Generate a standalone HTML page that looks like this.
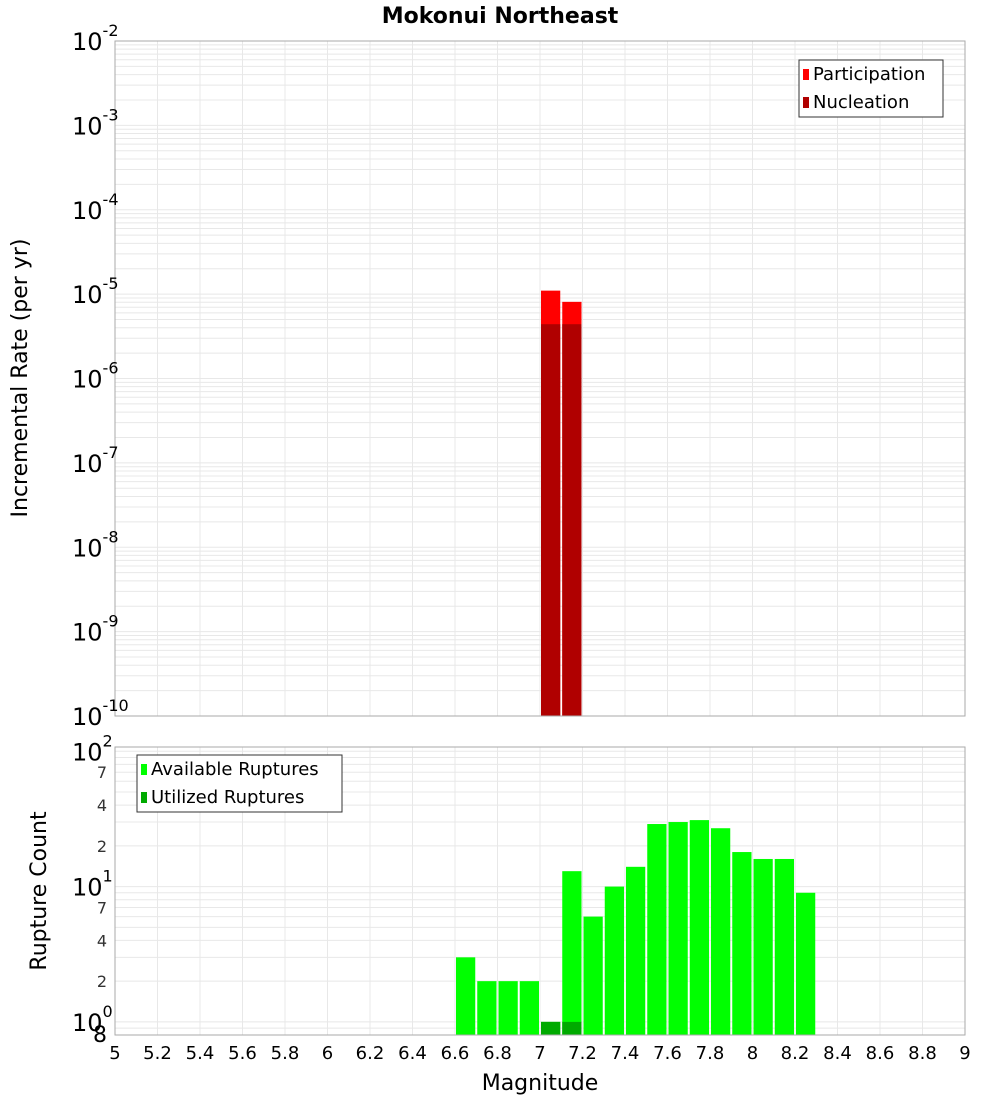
<!DOCTYPE html>
<html><head><meta charset="utf-8"><style>
body{margin:0;background:#fff;font-family:"DejaVu Sans","Liberation Sans",sans-serif}
svg text{font-family:"DejaVu Sans","Liberation Sans",sans-serif}
</style></head><body>
<svg id="chart" width="1000" height="1100" xmlns="http://www.w3.org/2000/svg">
<text x="500" y="23" text-anchor="middle" font-size="22" font-weight="bold">Mokonui Northeast</text>
<g id="gtop"></g><g id="gbot"></g>
<text transform="translate(27,378) rotate(-90)" text-anchor="middle" font-size="22">Incremental Rate (per yr)</text>
<text transform="translate(46,891) rotate(-90)" text-anchor="middle" font-size="22">Rupture Count</text>
<text x="540" y="1090" text-anchor="middle" font-size="22">Magnitude</text>
</svg>
<script>
const binStarts=[6.6,6.7,6.8,6.9,7.0,7.1,7.2,7.3,7.4,7.5,7.6,7.7,7.8,7.9,8.0,8.1,8.2];
const available=[3,2,2,2,1,13,6,10,14,29,30,31,27,18,16,16,9];
const utilized=[0,0,0,0,1,1,0,0,0,0,0,0,0,0,0,0,0];
const rateBins=[7.0,7.1];
const participation=[1.1e-5,8.1e-6];
const nucleation=[4.4e-6,4.4e-6];
const xTicks=[5,5.2,5.4,5.6,5.8,6,6.2,6.4,6.6,6.8,7,7.2,7.4,7.6,7.8,8,8.2,8.4,8.6,8.8,9];
const topDecades=[-10,-9,-8,-7,-6,-5,-4,-3,-2];
const botDecades=[0,1,2];
const botMinorLabels=[2,4,7];

const NS="http://www.w3.org/2000/svg";
function mk(p,t,a){const e=document.createElementNS(NS,t);for(const k in a)e.setAttribute(k,a[k]);p.appendChild(e);return e;}
const X0=115,X1=965;
const xs=m=>X0+(m-5)/4*(X1-X0);
const T0=41,T1=716;
const yt=v=>T1-(Math.log10(v)+10)/8*(T1-T0);
const B0=747,B1=1035,bmin=Math.log10(0.8),bdec=135.3;
const yb=v=>B1-(Math.log10(v)-bmin)*bdec;

const gTop=document.getElementById('gtop'),gBot=document.getElementById('gbot');
function grid(g,y0,y1,yf,lo,hi){
  for(const t of xTicks){const l=mk(g,'line',{x1:xs(t),x2:xs(t),y1:y0,y2:y1,stroke:'#e8e8e8'});
  }
  for(let d=lo;d<=hi;d++)for(let k=1;k<10;k++){const v=k*Math.pow(10,d);const y=yf(v);if(y<y0-0.5||y>y1+0.5)continue;
  const l=mk(g,'line',{x1:X0,x2:X1,y1:y,y2:y,stroke:'#e8e8e8'});
  }
}
grid(gTop,T0,T1,yt,-10,-3);
grid(gBot,B0,B1,yb,-1,2);
rateBins.forEach((m,i)=>{
  let r=mk(gTop,'rect',{x:xs(m)+1,width:xs(m+0.1)-xs(m)-2,y:yt(participation[i]),height:T1-yt(participation[i]),fill:'#ff0000'});
  
  r=mk(gTop,'rect',{x:xs(m)+1,width:xs(m+0.1)-xs(m)-2,y:yt(nucleation[i]),height:T1-yt(nucleation[i]),fill:'#b00000'});
  
});
binStarts.forEach((m,i)=>{
  let r=mk(gBot,'rect',{x:xs(m)+1,width:xs(m+0.1)-xs(m)-2,y:yb(available[i]),height:B1-yb(available[i]),fill:'#00ff00'});
  
  if(utilized[i]>0){r=mk(gBot,'rect',{x:xs(m)+1,width:xs(m+0.1)-xs(m)-2,y:yb(utilized[i]),height:B1-yb(utilized[i]),fill:'#00aa00'});
  }
});
let f=mk(gTop,'rect',{x:X0,y:T0,width:X1-X0,height:T1-T0,fill:'none',stroke:'#aaa'});

f=mk(gBot,'rect',{x:X0,y:B0,width:X1-X0,height:B1-B0,fill:'none',stroke:'#aaa'});

function dlabel(g,y,e){const t=mk(g,'text',{x:72,y:y+9,'font-size':24});
  
  t.appendChild(document.createTextNode('10'));
  const s=mk(t,'tspan',{dy:-14,'font-size':16});s.textContent=String(e);}
topDecades.forEach(d=>dlabel(gTop,yt(Math.pow(10,d)),d));
botDecades.forEach(d=>dlabel(gBot,yb(Math.pow(10,d)),d));
for(const d of [0,1])for(const k of botMinorLabels){const t=mk(gBot,'text',{x:107,y:yb(k*Math.pow(10,d))+6,'text-anchor':'end','font-size':16,fill:'#333'});
  t.textContent=k;}
let t8=mk(gBot,'text',{x:107,y:1042,'text-anchor':'end','font-size':22});t8.textContent='8';
xTicks.forEach(v=>{const t=mk(gBot,'text',{x:xs(v),y:1059,'text-anchor':'middle','font-size':18});
  t.textContent=String(v);});
function legend(g,x,y,w,items,nm){const r=mk(g,'rect',{x:x,y:y,width:w,height:57,fill:'#fff',stroke:'#333'});
  
  items.forEach((it,i)=>{const s=mk(g,'rect',{x:x+4,y:y+9+i*28,width:6,height:11,fill:it[1]});
   
   const t=mk(g,'text',{x:x+14,y:y+20+i*28,'font-size':18});t.textContent=it[0];});}
legend(gTop,799,60,144,[['Participation','#ff0000'],['Nucleation','#b00000']],'top-legend');
legend(gBot,137,755,205,[['Available Ruptures','#00ff00'],['Utilized Ruptures','#00aa00']],'bottom-legend');
</script>
</body></html>
